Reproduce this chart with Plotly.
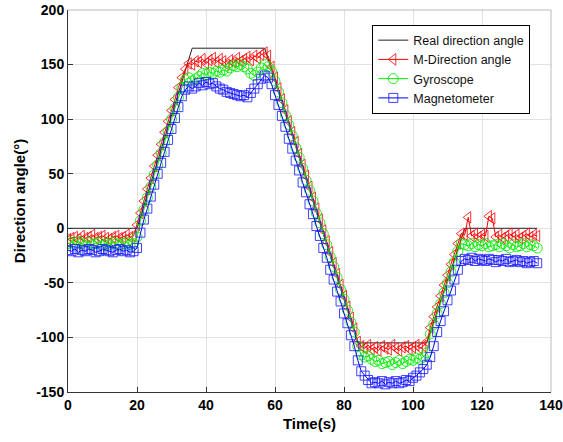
import plotly.graph_objects as go

# Sample times (s)
time_s = list(range(0, 137))

# Reference trajectory: breakpoints of the real direction angle
real_t = [0, 20, 36, 57, 84, 104, 115, 136]
real_angle = [0, 0, 165, 165, -105, -105, 0, 0]

# Fused estimate (M-Direction angle), one value per second
m_direction = [
    -10, -9, -8, -10, -7, -9, -8, -6, -9, -8, -7, -9, -10, -8, -7, -9, -8, -6, -8, -7,  # 0-19
    3,  # 20
    14, 25, 36, 46, 57, 67, 77, 88, 98, 108, 118, 129, 138, 146, 151,  # 21-35
    150, 153, 152, 155, 151, 154, 156, 152, 155, 153, 150, 154, 152, 156, 153, 155, 157, 154, 158, 156, 159,  # 36-56
    161,  # 57
    158, 148, 138, 128, 118, 108, 98, 88, 79, 68, 58, 48, 38, 28, 18, 8, -2, -12, -22, -32, -42, -52, -62, -72, -82, -92,  # 58-83
    -104,  # 84
    -108, -110, -107, -111, -109, -112, -108, -110, -111, -107, -110, -112, -109, -108, -111, -109, -107, -110, -108,  # 85-103
    -104,  # 104
    -91, -81, -72, -62, -52, -43, -33, -24, -14, -5,  # 105-114
    -6, 10, -7, -5, -8, -6, -7, 11, 9, -8, -6, -9, -7, -5, -8, -6, -9, -7, -5, -8, -6, -7,  # 115-136
]

# Gyroscope-only estimate
gyroscope = [
    -14, -13, -15, -12, -14, -16, -13, -15, -14, -13, -16, -14, -15, -13, -14, -16, -14, -13, -15, -14,  # 0-19
    -8,  # 20
    7, 17, 28, 38, 49, 58, 69, 79, 89, 100, 110, 120, 129, 136, 138,  # 21-35
    135, 137, 139, 142, 141, 143, 142, 144, 143, 145, 144, 147, 149, 148, 150, 148, 146, 142, 140, 143, 147,  # 36-56
    150,  # 57
    148, 144, 135, 125, 115, 104, 95, 85, 74, 65, 55, 44, 35, 25, 14, 5, -5, -15, -26, -35, -45, -56, -65, -75, -86, -95,  # 58-83
    -108,  # 84
    -116, -118, -117, -120, -122, -121, -124, -123, -122, -125, -123, -121, -124, -122, -120, -121, -119, -120, -118,  # 85-103
    -114,  # 104
    -97, -88, -78, -69, -59, -50, -40, -31, -21, -14,  # 105-114
    -15, -16, -14, -17, -15, -16, -14, -17, -16, -15, -17, -14, -16, -18, -15, -17, -16, -14, -17, -15, -16, -18,  # 115-136
]

# Magnetometer-only estimate
magnetometer = [
    -20, -21, -19, -22, -20, -21, -19, -20, -22, -21, -19, -20, -21, -22, -20, -19, -21, -20, -22, -21,  # 0-19
    -18,  # 20
    -4, 8, 18, 29, 40, 50, 60, 70, 81, 91, 101, 111, 121, 127, 130,  # 21-35
    128, 130, 133, 131, 134, 132, 133, 130, 128, 127, 125, 124, 123, 122, 121, 122, 120, 124, 128, 132, 137,  # 36-56
    140,  # 57
    138, 132, 122, 113, 103, 93, 82, 73, 62, 53, 42, 33, 22, 13, 2, -7, -18, -27, -38, -47, -58, -67, -78, -87, -98, -108,  # 58-83
    -121,  # 84
    -131, -135, -139, -142, -141, -142, -140, -143, -141, -142, -140, -142, -141, -139, -140, -137, -135, -132, -129,  # 85-103
    -125,  # 104
    -118, -108, -95, -85, -76, -66, -57, -47, -38, -30,  # 105-114
    -28, -29, -27, -30, -28, -29, -30, -28, -29, -31, -29, -30, -28, -31, -30, -29, -31, -30, -32, -31, -30, -32,  # 115-136
]

x_ticks = [0, 20, 40, 60, 80, 100, 120, 140]
x_tick_text = ["0", "20", "40", "60", "80", "100", "120", "140"]
y_ticks = [-150, -100, -50, 0, 50, 100, 150, 200]
y_tick_text = ["-150", "-100", "-50", "0", "50", "100", "150", "200"]

FONT = "Liberation Sans, Arial, sans-serif"

fig = go.Figure()

fig.add_trace(go.Scatter(
    x=real_t, y=real_angle, mode="lines", name="Real direction angle",
    line=dict(color="#222222", width=1),
))
fig.add_trace(go.Scatter(
    x=time_s, y=m_direction, mode="lines+markers", name="M-Direction angle",
    line=dict(color="#ff0000", width=1),
    marker=dict(symbol="triangle-left-open", size=10, color="rgba(255,0,0,0.8)",
                line=dict(width=1)),
))
fig.add_trace(go.Scatter(
    x=time_s, y=gyroscope, mode="lines+markers", name="Gyroscope",
    line=dict(color="#00ee00", width=1),
    marker=dict(symbol="circle-open", size=10, color="rgba(0,235,0,0.85)",
                line=dict(width=1)),
))
fig.add_trace(go.Scatter(
    x=time_s, y=magnetometer, mode="lines+markers", name="Magnetometer",
    line=dict(color="#0000ff", width=1),
    marker=dict(symbol="square-open", size=9, color="rgba(20,20,255,0.8)",
                line=dict(width=1)),
))

axis_common = dict(
    showgrid=True, gridcolor="#e2e2e2", gridwidth=1, automargin=False,
    zeroline=False, showline=True, linecolor="#333333", linewidth=1,
    ticks="inside", ticklen=5, tickcolor="#333333",
    tickfont=dict(family=FONT, size=14, color="black", weight="bold"),
)

fig.update_xaxes(
    range=[0, 140], tickvals=x_ticks, ticktext=x_tick_text,
    title=dict(text="Time(s)", font=dict(family=FONT, size=15, color="black", weight="bold"), standoff=6),
    **axis_common,
)
fig.update_yaxes(
    range=[-150, 200], tickvals=y_ticks, ticktext=y_tick_text,
    title=dict(text="Direction angle(°)", font=dict(family=FONT, size=15, color="black", weight="bold"), standoff=6),
    **axis_common,
)

# Light frame on the top and right edges of the plotting area
fig.add_shape(type="line", xref="paper", yref="paper", x0=0, x1=1, y0=1, y1=1,
              line=dict(color="#bbbbbb", width=1))
fig.add_shape(type="line", xref="paper", yref="paper", x0=1, x1=1, y0=0, y1=1,
              line=dict(color="#bbbbbb", width=1))

fig.update_layout(
    width=563, height=442,
    margin=dict(l=68, r=12, t=10, b=50),
    paper_bgcolor="white", plot_bgcolor="white",
    font=dict(family=FONT, color="black"),
    legend=dict(
        x=0.63, y=0.962, xanchor="left", yanchor="top",
        bgcolor="white", bordercolor="black", borderwidth=1,
        font=dict(family=FONT, size=12.5, color="#111111"),
        tracegroupgap=0, itemwidth=30,
    ),
    showlegend=True,
)

fig.write_html("out.html")
